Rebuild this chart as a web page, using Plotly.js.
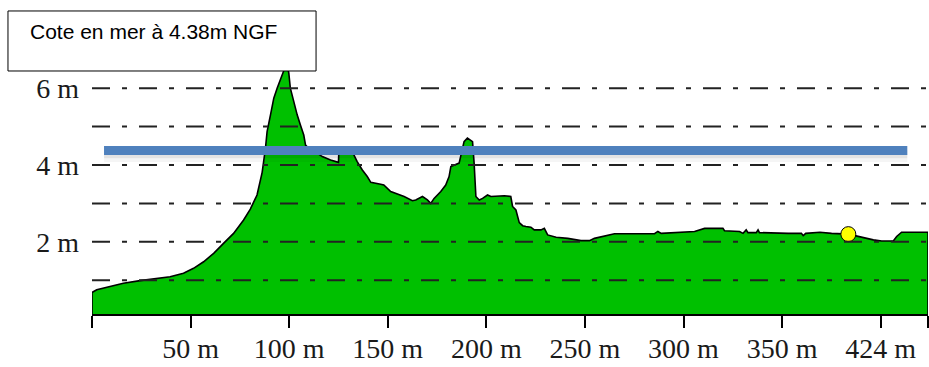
<!DOCTYPE html>
<html>
<head>
<meta charset="utf-8">
<script src="https://cdn.plot.ly/plotly-3.0.1.min.js"></script>
<style>html,body{margin:0;padding:0;background:#fff}#chart{width:929px;height:367px}</style>
</head>
<body>
<div id="chart"></div>
<script>
// Distance along the profile (m)
const distance = [0, 0, 2.4, 9.1, 15.9, 24.4, 32.9, 39.6, 46.4, 51.5, 56.6, 61.7, 66.7, 71.8, 76.9, 80.3, 83.7, 86.3, 88.0, 88.8, 90.5, 92.2, 93.9, 95.6, 97.2, 98.8, 99.8, 100.6, 102.3, 104.1, 105.7, 107.4, 108.3, 110.5, 114.2, 116.8, 121.0, 124.4, 125.0, 125.2, 132.0, 134.5, 137.1, 139.6, 141.4, 146.4, 148.0, 151.5, 158.3, 162.5, 164.2, 167.6, 170.1, 171.8, 173.5, 176.9, 179.4, 181.1, 182.0, 186.2, 187.0, 188.7, 190.4, 193.0, 193.8, 194.7, 196.4, 198.1, 200.6, 202.3, 209.1, 212.4, 213.3, 215.0, 216.7, 218.4, 220.1, 222.6, 224.3, 227.7, 229.4, 231.1, 235.4, 241.3, 248.0, 252.3, 254.8, 259.9, 265.0, 285.3, 287.0, 288.7, 305.6, 310.7, 320.0, 320.8, 328.4, 330.2, 331.8, 332.7, 336.9, 337.8, 338.5, 353.1, 359.8, 360.7, 362.0, 369.2, 375.1, 383.6, 388.6, 393.7, 396.3, 400.5, 406.4, 408.1, 410.6, 424.0, 424.0];
// Elevation (m NGF)
const elevation = [0, 0.68, 0.75, 0.83, 0.92, 0.99, 1.05, 1.09, 1.18, 1.31, 1.48, 1.70, 1.96, 2.22, 2.57, 2.85, 3.22, 3.81, 4.45, 4.87, 5.30, 5.74, 6.00, 6.26, 6.45, 6.65, 6.40, 6.00, 5.65, 5.30, 5.04, 4.78, 4.52, 4.40, 4.31, 4.22, 4.13, 4.07, 4.07, 4.35, 4.35, 4.09, 3.87, 3.70, 3.55, 3.50, 3.48, 3.31, 3.18, 3.07, 3.09, 3.18, 3.09, 3.00, 3.13, 3.31, 3.48, 3.70, 3.96, 4.05, 4.26, 4.61, 4.70, 4.61, 4.05, 3.18, 3.09, 3.13, 3.22, 3.18, 3.20, 3.18, 2.92, 2.83, 2.50, 2.42, 2.40, 2.38, 2.31, 2.31, 2.35, 2.18, 2.12, 2.09, 2.03, 2.03, 2.09, 2.15, 2.21, 2.21, 2.27, 2.22, 2.27, 2.35, 2.35, 2.29, 2.27, 2.22, 2.31, 2.24, 2.24, 2.31, 2.24, 2.22, 2.22, 2.16, 2.22, 2.25, 2.22, 2.20, 2.14, 2.09, 2.05, 2.02, 2.02, 2.14, 2.25, 2.25, 0];

// Sea level line
const seaLevel = 4.38;
const seaLineX = [6.1, 413.5];
const seaLabel = "Cote en mer à 4.38m NGF";

// Marker point
const pointX = [383.6];
const pointY = [2.20];

// Axis ticks
const xRange = [0, 424];
const xTickVals = [0, 50, 100, 150, 200, 250, 300, 350, 400, 424];
const xTickText = ["", "50 m", "100 m", "150 m", "200 m", "250 m", "300 m", "350 m", "424 m", ""];
const yTickVals = [2, 4, 6];
const yTickText = ["2 m", "4 m", "6 m"];
const yGridVals = [1, 2, 3, 4, 5, 6];

const traces = [
  {
    x: distance, y: elevation, type: "scatter", mode: "lines",
    fill: "tozeroy", fillcolor: "#00C000",
    line: {color: "#000", width: 1.6}, hoverinfo: "skip"
  },
  {
    x: seaLineX, y: [seaLevel - 0.2, seaLevel - 0.2], type: "scatter", mode: "lines",
    line: {color: "rgba(0,0,0,0.04)", width: 8}, hoverinfo: "skip"
  },
  {
    x: seaLineX, y: [seaLevel - 0.1, seaLevel - 0.1], type: "scatter", mode: "lines",
    line: {color: "rgba(0,0,0,0.07)", width: 8}, hoverinfo: "skip"
  },
  {
    x: seaLineX, y: [seaLevel, seaLevel], type: "scatter", mode: "lines",
    line: {color: "#4F81BD", width: 9}, hoverinfo: "skip"
  },
  {
    x: pointX, y: pointY, type: "scatter", mode: "markers", xaxis: "x2",
    marker: {color: "#FFFF00", size: 15, line: {color: "#000", width: 1}}, hoverinfo: "skip"
  }
];

const gridShapes = yGridVals.map(v => ({
  type: "line", xref: "paper", yref: "y", x0: 0, x1: 1, y0: v, y1: v,
  line: {color: "#222", width: 2, dash: "18px,12px,5px,12px"}, layer: "above"
}));

const tickFont = {size: 28, family: "Liberation Serif, serif", color: "#1a1a1a"};

const layout = {
  width: 929, height: 367,
  margin: {l: 92, r: 1, t: 60, b: 53},
  paper_bgcolor: "#fff", plot_bgcolor: "#fff",
  showlegend: false,
  font: {family: "Liberation Serif, Times New Roman, serif", color: "#1a1a1a"},
  xaxis: {
    range: xRange, showgrid: false, zeroline: false,
    showline: true, linecolor: "#000", linewidth: 2,
    ticks: "outside", ticklen: 12, tickwidth: 2, tickcolor: "#000",
    tickvals: xTickVals, showticklabels: false,
    layer: "above traces", fixedrange: true
  },
  xaxis2: {
    range: xRange, overlaying: "x", anchor: "y", side: "bottom",
    showgrid: false, zeroline: false, showline: false, ticks: "",
    tickvals: xTickVals, ticktext: xTickText,
    ticklabelstandoff: 15,
    tickfont: tickFont, fixedrange: true
  },
  yaxis: {
    range: [0.12, 6.735], showgrid: false, zeroline: false, showline: false,
    ticks: "", tickvals: yTickVals, ticktext: yTickText,
    ticklabelstandoff: 12,
    tickfont: tickFont,
    fixedrange: true
  },
  shapes: gridShapes.concat([
    {type: "rect", xref: "paper", yref: "paper", x0: -0.1005, x1: 0.268, y0: 0.9567, y1: 1.193,
     line: {color: "#000", width: 1}, fillcolor: "#fff", layer: "above"}
  ]),
  annotations: [
    {text: seaLabel, xref: "paper", yref: "paper", x: -0.0766, y: 1.112,
     xanchor: "left", yanchor: "middle", showarrow: false,
     font: {family: "Liberation Sans, Arial, sans-serif", size: 21, color: "#000"}}
  ]
};

Plotly.newPlot("chart", traces, layout, {displayModeBar: false, staticPlot: true});
</script>
</body>
</html>
